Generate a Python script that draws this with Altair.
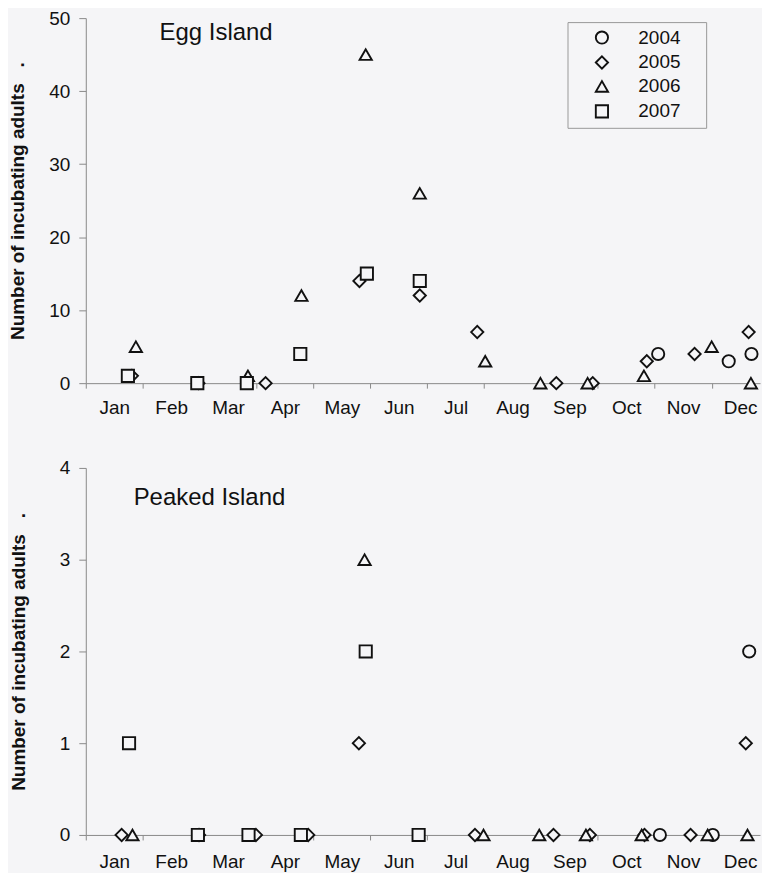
import altair as alt
import pandas as pd

# ---------------- data (month position 0 = start of Jan, 12 = end of Dec) ----------------
months = ["Jan", "Feb", "Mar", "Apr", "May", "Jun", "Jul", "Aug", "Sep", "Oct", "Nov", "Dec"]
years = ["2004", "2005", "2006", "2007"]
shapes = ["circle", "diamond", "triangle-up", "square"]

# Egg Island
egg_2004_month = [10.06, 11.30, 11.70]
egg_2004_count = [4, 3, 4]
egg_2005_month = [0.81, 1.98, 3.16, 4.81, 5.87, 6.88, 8.27, 8.91, 9.86, 10.70, 11.65]
egg_2005_count = [1, 0, 0, 14, 12, 7, 0, 0, 3, 4, 7]
egg_2006_month = [0.88, 2.85, 3.79, 4.92, 5.87, 7.02, 7.99, 8.82, 9.81, 11.00, 11.69]
egg_2006_count = [5, 1, 12, 45, 26, 3, 0, 0, 1, 5, 0]
egg_2007_month = [0.74, 1.96, 2.83, 3.77, 4.94, 5.87]
egg_2007_count = [1, 0, 0, 4, 15, 14]

# Peaked Island
pk_2004_month = [10.09, 11.02, 11.66]
pk_2004_count = [0, 0, 2]
pk_2005_month = [0.63, 1.99, 2.99, 3.91, 4.80, 6.84, 8.22, 8.86, 9.82, 10.63, 11.60]
pk_2005_count = [0, 0, 0, 0, 1, 0, 0, 0, 0, 0, 1]
pk_2006_month = [0.82, 4.90, 6.99, 7.97, 8.79, 9.77, 10.93, 11.63]
pk_2006_count = [0, 3, 0, 0, 0, 0, 0, 0]
pk_2007_month = [0.76, 1.97, 2.86, 3.78, 4.92, 5.85]
pk_2007_count = [1, 0, 0, 0, 2, 0]

egg_y_ticks = [0, 10, 20, 30, 40, 50]
pk_y_ticks = [0, 1, 2, 3, 4]


def frame(pairs):
    rows = []
    for yr, (ms, cs) in zip(years, pairs):
        for m, c in zip(ms, cs):
            rows.append({"month": m, "count": c, "year": yr})
    return pd.DataFrame(rows)


egg_df = frame([(egg_2004_month, egg_2004_count), (egg_2005_month, egg_2005_count),
                (egg_2006_month, egg_2006_count), (egg_2007_month, egg_2007_count)])
pk_df = frame([(pk_2004_month, pk_2004_count), (pk_2005_month, pk_2005_count),
               (pk_2006_month, pk_2006_count), (pk_2007_month, pk_2007_count)])

# ---------------- style ----------------
BG = "#f5f5f7"
FONT = "Liberation Sans"
AXIS_GREY = "#8a8a8a"
W = 676
X_MAX = 11.85
half_month = W / X_MAX / 2
month_expr = "[" + ",".join("'%s'" % m for m in months) + "][datum.value]"
y_title = "Number of incubating adults\u00a0\u00a0\u00a0."


def panel(df, name, y_max, y_ticks, height, title_x, title_y, title_pad, x_label_pad, legend):
    x = alt.X("month:Q",
              scale=alt.Scale(domain=[0, X_MAX], nice=False, zero=False),
              axis=alt.Axis(values=list(range(12)), labelExpr=month_expr,
                            labelOffset=half_month, labelFlush=False, labelOverlap=False,
                            title=None, grid=False, tickSize=5, labelPadding=x_label_pad,
                            domainColor=AXIS_GREY, tickColor=AXIS_GREY,
                            labelFont=FONT, labelFontSize=19, labelColor="#111"))
    y = alt.Y("count:Q",
              scale=alt.Scale(domain=[0, y_max], nice=False),
              axis=alt.Axis(values=y_ticks, title=y_title, grid=False, tickSize=7,
                            labelPadding=9, titlePadding=title_pad,
                            domainColor=AXIS_GREY, tickColor=AXIS_GREY,
                            labelFont=FONT, labelFontSize=19, labelColor="#111",
                            titleFont=FONT, titleFontSize=19, titleFontWeight="bold",
                            titleColor="#111"))
    if legend:
        leg = alt.Legend(title="\u00a0", titleOrient="right", titlePadding=20,
                         titleFontSize=1,
                         orient="none", legendX=483, legendY=4,
                         padding=6, rowPadding=4, symbolOffset=19, labelOffset=27,
                         symbolSize=150, symbolStrokeWidth=1.9,
                         labelFont=FONT, labelFontSize=19, labelColor="#111",
                         fillColor=BG, strokeColor="#999999")
    else:
        leg = None
    shape = alt.Shape("year:N", scale=alt.Scale(domain=years, range=shapes), legend=leg)
    pts = alt.Chart(df).mark_point(filled=False, fill=BG, stroke="#111", strokeWidth=1.9,
                                   size=150, opacity=1, fillOpacity=1).encode(
        x=x, y=y, shape=shape, order=alt.Order("year:N"))
    ttl = alt.Chart(pd.DataFrame({"t": [name]})).mark_text(
        align="left", baseline="alphabetic", font=FONT, fontSize=24, color="#111"
    ).encode(text="t:N", x=alt.value(title_x), y=alt.value(title_y))
    return alt.layer(pts, ttl).properties(width=W, height=height)


top = panel(egg_df, "Egg Island", 50, egg_y_ticks, 366, 74, 22, 21, 10, True)
bottom = panel(pk_df, "Peaked Island", 4, pk_y_ticks, 368, 48, 37, 31, 13, False)

chart = alt.vconcat(top, bottom, spacing=42).resolve_scale(
    y="independent", shape="independent"
).properties(padding=0, background=BG).configure_view(strokeWidth=0)

chart.save("out.html", embed_options={"renderer": "svg", "actions": False})
